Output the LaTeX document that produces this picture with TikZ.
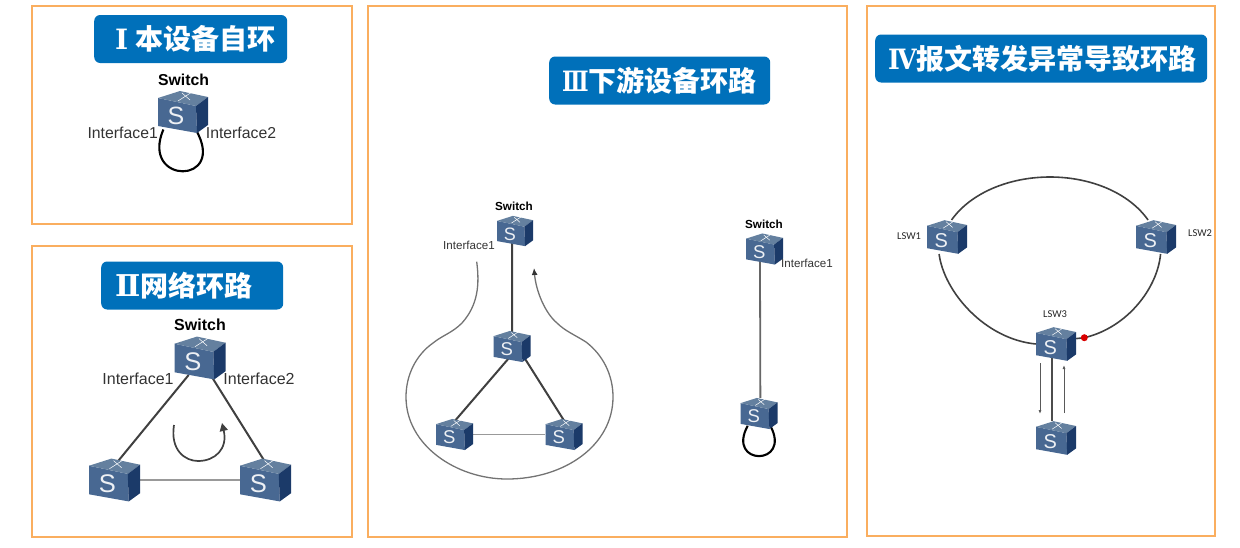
\documentclass[tikz,border=0pt]{standalone}
\usepackage{fontspec}
\setmainfont{Liberation Sans}
\newfontfamily\cjk{Noto Sans CJK SC}
\newfontfamily\numfont{DejaVu Serif}
\newfontfamily\lswfont{Carlito}
\usetikzlibrary{arrows.meta,backgrounds}

\definecolor{panelframe}{HTML}{FAAE5F}
\definecolor{titleblue}{HTML}{0070BA}
\definecolor{swfront}{HTML}{486892}
\definecolor{swtop}{HTML}{64809F}
\definecolor{swside}{HTML}{1B3A69}

% size, horizontal scale, numeral
\newcommand{\titlenum}[3]{\scalebox{#2}[1]{\numfont\fontsize{#1}{#1}\selectfont #3}}

\tikzset{
	titlebox/.style={fill=titleblue, rounded corners=6pt, text=white, anchor=west, align=left,
		inner xsep=0pt, inner ysep=0pt, minimum height=48pt, text width=#1,
		font=\cjk\bfseries\fontsize{28}{28}\selectfont},
	swname/.style={inner sep=0pt, font=\bfseries\fontsize{#1}{#1}\selectfont},
	ifname/.style={inner sep=0pt, text=black!80, font=\fontsize{#1}{#1}\selectfont},
	lswname/.style={inner sep=0pt, text=black!85, font=\lswfont\fontsize{10.5}{10.5}\selectfont},
	darkline/.style={draw=black!75, line width=2pt, shorten <=-6pt, shorten >=-3pt},
	lightline/.style={draw=black!40, line width=1.6pt},
	loopline/.style={draw=black, line width=2.1pt, shorten <=-4pt, shorten >=-4pt},
	ringline/.style={draw=black!75, line width=1.6pt}
}

% name, x, y, width
\newcommand{\swbox}[4]{
	\begin{scope}[shift={(#2,#3)}, scale=#4/50]
		\fill[swfront] (-25,-14) -- (13,-6) -- (14,21) -- (-25,14) -- cycle;
		\fill[swtop] (-25,-14) -- (-3,-21) -- (25,-15) -- (13,-6) -- cycle;
		\fill[swside] (13,-6) -- (25,-15) -- (25,13) -- (14,21) -- cycle;
		\draw[white, line width=.5pt] (-5,-11) -- (9,-20);
		\draw[white, line width=.5pt] (-1,-19) -- (7,-12);
		\node[transform shape, inner sep=0pt, text=white!90!swfront,
			font=\fontsize{25}{25}\selectfont] (#1s) at (-7,4) {S};
	\end{scope}
	\node[inner sep=0pt, minimum width=#4, minimum height=.84*#4] (#1) at (#2,#3) {};
}

\begin{document}
\begin{tikzpicture}[x=1pt,y=-1pt]
	\useasboundingbox (0,0) rectangle (1240,547);

	% frames
	\foreach \a/\b/\c/\d in {
	32/6/352/224,
	32/246/352/537,
	368/6/847/537,
	867/6/1215/536}
	{
		\draw[panelframe, line width=1.7pt] (\a,\b) rectangle (\c,\d);
	};

	% titles
	\node[titlebox=193pt] (ta) at (94,39) {\hspace*{21pt}\titlenum{28}{1}{Ⅰ}\hspace{7pt}本设备自环};
	\node[titlebox=182pt] (tb) at (101,285.5) {\hspace*{14pt}\titlenum{30}{1}{Ⅱ}网络环路};
	\node[titlebox=221pt] (tc) at (549,80.5) {\hspace*{13pt}\titlenum{28}{.78}{Ⅲ}下游设备环路};
	\node[titlebox=332pt] (td) at (875,58.5) {\hspace*{13pt}\titlenum{28}{.9}{Ⅳ}报文转发异常导致环路};

	% switches
	\foreach \n/\x/\y/\w in {
	swa/183/112/50,
	swb/200/358/51,
	swc/114.5/480/51,
	swd/265.5/480/51,
	swe/515/231/36,
	swf/512/346.5/37,
	swg/454.5/434.5/37,
	swh/564/434.5/37,
	swi/764.5/249/37,
	swj/759/413.5/37,
	lsw1/947/237/40,
	lsw2/1156/237/40,
	lsw3/1056/344/40,
	lsw4/1056/438/40}
	{
		\swbox{\n}{\x}{\y}{\w}
	};

	% names
	\node[swname=15.8] (na) at (183.5,80) {Switch};
	\node[swname=16] (nb) at (200,325) {Switch};
	\node[swname=11.7] (ne) at (514,206) {Switch};
	\node[swname=11.7] (ni) at (764,224) {Switch};

	\node[ifname=15.8] (ia1) at (122.7,133) {Interface1};
	\node[ifname=15.8] (ia2) at (241,133) {Interface2};
	\node[ifname=16] (ib1) at (138,379) {Interface1};
	\node[ifname=16] (ib2) at (259,379) {Interface2};
	\node[ifname=11.6] (ie1) at (469,245.7) {Interface1};
	\node[ifname=11.6] (ii1) at (807,263) {Interface1};

	\node[lswname] (l1) at (909,236) {LSW1};
	\node[lswname] (l2) at (1200,233) {LSW2};
	\node[lswname] (l3) at (1055,314) {LSW3};

	\node[circle, fill=red!85!black, inner sep=0pt, minimum size=7pt] (fault) at (1084.3,337.7) {};

	% free ends
	\coordinate (ccw1) at (174,425);
	\coordinate (ccw2) at (222,423);
	\coordinate (big1) at (476.7,261.7);
	\coordinate (big2) at (534,268);
	\coordinate (down1) at (1040,363);
	\coordinate (down2) at (1040,414);
	\coordinate (up1) at (1064,413);
	\coordinate (up2) at (1064,365);
	\coordinate (ringtop) at (1050,177);

	\begin{pgfonlayer}{background}
		% self loops
		\path[loopline] (swa.225) .. controls +(-22,52) and +(30,52) .. (swa.305);
		\path[loopline] (swj.230) .. controls +(-20,37) and +(20,37) .. (swj.310);

		\foreach \i / \j in {
		swb.235/swc.75,
		swb.302/swd.97,
		swe.259/swf.north,
		swf.247/swg.82,
		swf.314/swh.94}
		{
			\path[darkline] (\i) -- (\j);
		};

		\path[lightline, line width=2.2pt] (swc.east) -- (swd.west);
		\path[lightline, line width=1.2pt] (swg.east) -- (swh.west);
		\path[draw=black!60, line width=1.8pt, shorten <=-4pt] (swi.254) -- (swj.85);

		% ring
		\path[ringline] (lsw1.75) .. controls +(19,-27) and +(-41,0) .. (ringtop)
			.. controls +(41,0) and +(-19,-27) .. (lsw2.115);
		\path[ringline] (lsw1.245) .. controls +(5,38) and +(-51,-5) .. (lsw3.west);
		\path[ringline] (lsw2.285) .. controls +(-3,34) and +(43,-10) .. (fault.center);
		\path[ringline] (fault.center) -- (lsw3.15);
		\path[draw=black!70, line width=2pt, shorten <=-4pt] (lsw3.257) -- (lsw4.103);
	\end{pgfonlayer}

	% arrows
	\draw[black!75, line width=1.7pt, -{Triangle[length=8pt,width=8pt]}] (ccw1) .. controls +(-4,25) and +(-13,0) .. (198,461)
		.. controls +(17,0) and +(6,26) .. (ccw2);
	\draw[black!55, line width=1.3pt, -{Latex[black!80,length=7pt,width=6pt]}] (big1) .. controls +(3,23) and +(16,-18) .. (462,323)
		.. controls +(-10,10) and +(10,-8) .. (433,343)
		.. controls +(-17,12) and +(0,-22) .. (406,397)
		.. controls +(0,48) and +(-51,0) .. (507,479)
		.. controls +(58,0) and +(0,48) .. (613,397)
		.. controls +(0,-22) and +(17,13) .. (586,342)
		.. controls +(-11,-7) and +(8,8) .. (557,323)
		.. controls +(-12,-10) and +(2,23) .. (big2);
	\draw[black!65, line width=.8pt, -{Latex[length=4pt,width=3pt]}] (down1) -- (down2);
	\draw[black!65, line width=.8pt, -{Latex[length=4pt,width=3pt]}] (up1) -- (up2);

\end{tikzpicture}
\end{document}
